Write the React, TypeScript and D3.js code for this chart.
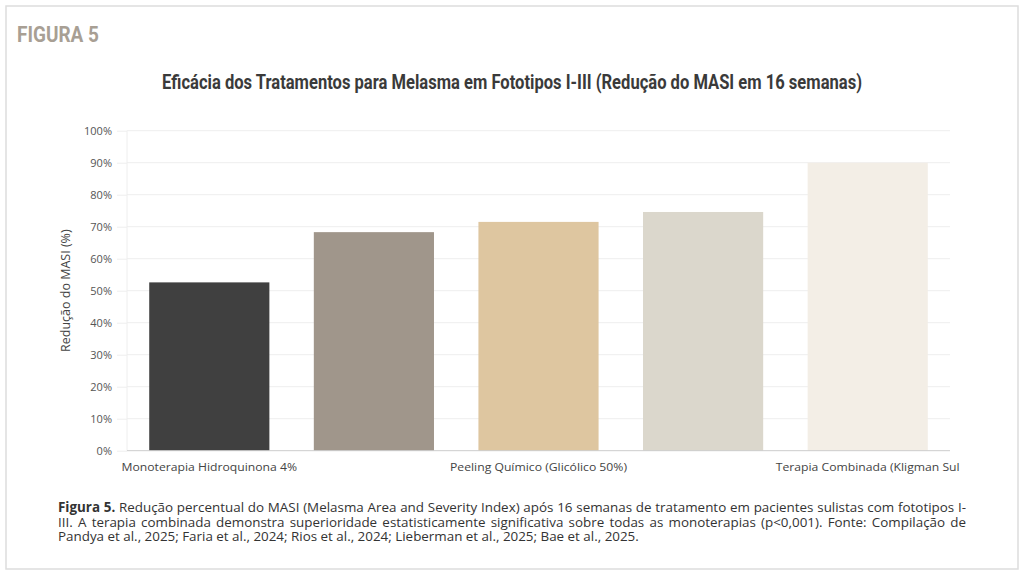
import { useEffect, useRef } from "react";
import { axisLeft, format, scaleBand, scaleLinear, select } from "d3";

const categories = [
  "Monoterapia Hidroquinona 4%",
  "Ácido Tranexâmico Oral",
  "Peeling Químico (Glicólico 50%)",
  "Laser Q-Switched Nd:YAG",
  "Terapia Combinada (Kligman Sul",
];
const reductions = [52.6, 68.3, 71.5, 74.6, 90.0];
const barColors = ["#404040", "#a0968b", "#dec6a0", "#dbd7cc", "#f3eee6"];
const yTicks = [0, 10, 20, 30, 40, 50, 60, 70, 80, 90, 100];

const captionLines = [
  "Redução percentual do MASI (Melasma Area and Severity Index) após 16 semanas de tratamento em pacientes sulistas com fototipos I-",
  "III. A terapia combinada demonstra superioridade estatisticamente significativa sobre todas as monoterapias (p<0,001). Fonte: Compilação de",
  "Pandya et al., 2025; Faria et al., 2024; Rios et al., 2024; Lieberman et al., 2025; Bae et al., 2025.",
];

const W = 1024;
const H = 576;
const plot = { left: 127, right: 950, top: 130.7, bottom: 450.7 };

export default function App() {
  const gy = useRef<SVGGElement>(null);

  const x = scaleBand<string>()
    .domain(categories)
    .range([plot.left, plot.right])
    .paddingInner(0.27)
    .paddingOuter(0.135);
  const y = scaleLinear().domain([0, 100]).range([plot.bottom, plot.top]);

  useEffect(() => {
    const g = select(gy.current!);
    g.call(
      axisLeft(y)
        .tickValues(yTicks)
        .tickSize(10)
        .tickPadding(5)
        .tickFormat((d) => format("d")(d as number) + "%") as any
    );
    g.select(".domain").remove();
    g.selectAll(".tick line").attr("stroke", "#eeeeee");
    g.selectAll(".tick text")
      .attr("fill", "#555")
      .style("font-family", "'Open Sans', sans-serif")
      .style("font-size", "11px");
  }, [y]);

  const labelScale = 1.06;

  return (
    <svg
      width={W}
      height={H}
      style={{ position: "fixed", left: 0, top: 0, background: "#fff" }}
    >
      <rect x={6} y={6} width={1012} height={563} fill="#fff" stroke="#dddddd" strokeWidth={1.5} />

      <text
        x={17}
        y={42}
        fill="#a89f94"
        fontFamily="Roboto, sans-serif"
        fontWeight={700}
        fontSize={22}
        textLength={82}
        lengthAdjust="spacingAndGlyphs"
      >
        FIGURA 5
      </text>

      <text
        x={512}
        y={89}
        textAnchor="middle"
        fill="#3a3a3a"
        fontFamily="Roboto, sans-serif"
        fontWeight={700}
        fontSize={20.5}
        textLength={700}
        lengthAdjust="spacingAndGlyphs"
      >
        Eficácia dos Tratamentos para Melasma em Fototipos I-III (Redução do MASI em 16 semanas)
      </text>

      {/* gridlines */}
      {yTicks.slice(1).map((t) => (
        <line key={t} x1={plot.left} x2={plot.right} y1={y(t)} y2={y(t)} stroke="#eeeeee" />
      ))}
      <line x1={plot.left} x2={plot.left} y1={plot.top} y2={plot.bottom} stroke="#eeeeee" />
      <g ref={gy} transform={`translate(${plot.left},0)`} />

      {categories.map((c, i) => (
        <rect
          key={c}
          x={x(c)}
          y={y(reductions[i])}
          width={x.bandwidth()}
          height={y(0) - y(reductions[i])}
          fill={barColors[i]}
        />
      ))}
      <line x1={plot.left} x2={plot.right} y1={plot.bottom} y2={plot.bottom} stroke="#cccccc" />

      {/* only every other category label is shown, as in the reference */}
      {categories.map((c, i) => {
        if (i % 2 !== 0) return null;
        const cx = x(c)! + x.bandwidth() / 2;
        return (
          <text
            key={c}
            x={cx}
            y={471}
            textAnchor="middle"
            fill="#444"
            fontFamily="'Open Sans', sans-serif"
            fontSize={11.5}
            transform={`translate(${cx * (1 - labelScale)},0) scale(${labelScale},1)`}
          >
            {c}
          </text>
        );
      })}

      <text
        transform={`translate(70,${(plot.top + plot.bottom) / 2}) rotate(-90)`}
        textAnchor="middle"
        fill="#444"
        fontFamily="'Open Sans', sans-serif"
        fontSize={12.5}
      >
        Redução do MASI (%)
      </text>

      <foreignObject x={58} y={500} width={908} height={50}>
        <div
          style={{
            fontFamily: "'Open Sans', sans-serif",
            fontSize: "13.4px",
            lineHeight: "14.5px",
            color: "#333",
          }}
        >
          {captionLines.map((line, i) => (
            <div
              key={i}
              style={{
                whiteSpace: "nowrap",
                textAlign: "justify",
                textAlignLast: i < 2 ? "justify" : "left",
              }}
            >
              {i === 0 && <b>Figura 5. </b>}
              {line}
            </div>
          ))}
        </div>
      </foreignObject>
    </svg>
  );
}
